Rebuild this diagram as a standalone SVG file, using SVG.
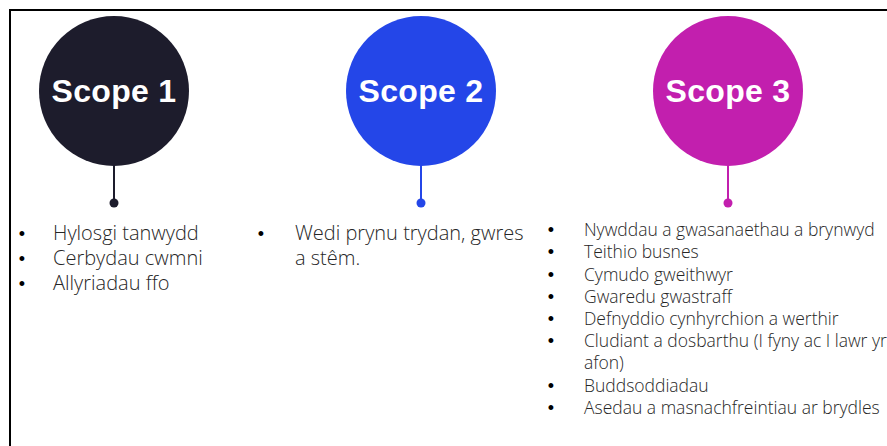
<svg xmlns="http://www.w3.org/2000/svg" width="887" height="446" viewBox="0 0 887 446">
  <style>
    .frame { fill: none; stroke: #000; stroke-width: 2; }
    .head { font-family: "Liberation Sans", Arial, sans-serif; font-weight: 700; font-size: 32px; fill: #ffffff; text-anchor: middle; letter-spacing: 0.3px; }
    .item { font-family: "Open Sans", "Noto Sans", sans-serif; font-weight: 300; fill: #262626; }
    .bul { font-family: "Liberation Sans", Arial, sans-serif; font-weight: 400; fill: #000; text-anchor: middle; font-size: 18px; }
    .big { font-size: 20px; }
    .small { font-size: 17.5px; }
    .c1 { fill: #1d1c2c; } .s1 { stroke: #1d1c2c; }
    .c2 { fill: #2446e8; } .s2 { stroke: #2446e8; }
    .c3 { fill: #c21fae; } .s3 { stroke: #c21fae; }
    .stem { stroke-width: 2; fill: none; }
  </style>
  <rect width="887" height="446" fill="#ffffff"/>
  <path class="frame" d="M10,447 V10 H888"/>

  <g id="connectors">
    <line class="stem s1" x1="114" y1="165" x2="114" y2="203"/>
    <circle class="c1" cx="114" cy="203" r="4.5"/>
    <line class="stem s2" x1="421" y1="165" x2="421" y2="203"/>
    <circle class="c2" cx="421" cy="203" r="4.5"/>
    <line class="stem s3" x1="728" y1="165" x2="728" y2="203"/>
    <circle class="c3" cx="728" cy="203" r="4.5"/>
  </g>

  <g id="scope1">
    <circle class="c1" cx="114" cy="91" r="75"/>
    <text class="head" x="114" y="102">Scope 1</text>
  </g>
  <g id="scope2">
    <circle class="c2" cx="421" cy="91" r="75"/>
    <text class="head" x="421" y="102">Scope 2</text>
  </g>
  <g id="scope3">
    <circle class="c3" cx="728" cy="91" r="75"/>
    <text class="head" x="728" y="102">Scope 3</text>
  </g>

  <g id="list1">
    <text class="bul" x="22" y="240">•</text><text class="item big" x="53" y="240">Hylosgi tanwydd</text>
    <text class="bul" x="22" y="265">•</text><text class="item big" x="53" y="265">Cerbydau cwmni</text>
    <text class="bul" x="22" y="290">•</text><text class="item big" x="53" y="290">Allyriadau ffo</text>
  </g>
  <g id="list2">
    <text class="bul" x="261" y="240">•</text><text class="item big" x="295" y="240">Wedi prynu trydan, gwres</text>
    <text class="item big" x="295" y="265">a stêm.</text>
  </g>
  <g id="list3">
    <text class="bul" x="551" y="236">•</text><text class="item small" x="584" y="236">Nywddau a gwasanaethau a brynwyd</text>
    <text class="bul" x="551" y="258">•</text><text class="item small" x="584" y="258">Teithio busnes</text>
    <text class="bul" x="551" y="281">•</text><text class="item small" x="584" y="281">Cymudo gweithwyr</text>
    <text class="bul" x="551" y="303">•</text><text class="item small" x="584" y="303">Gwaredu gwastraff</text>
    <text class="bul" x="551" y="325">•</text><text class="item small" x="584" y="325">Defnyddio cynhyrchion a werthir</text>
    <text class="bul" x="551" y="347">•</text><text class="item small" x="584" y="347">Cludiant a dosbarthu (I fyny ac I lawr yr</text>
    <text class="item small" x="584" y="369">afon)</text>
    <text class="bul" x="551" y="392">•</text><text class="item small" x="584" y="392">Buddsoddiadau</text>
    <text class="bul" x="551" y="414">•</text><text class="item small" x="584" y="414">Asedau a masnachfreintiau ar brydles</text>
  </g>
</svg>
